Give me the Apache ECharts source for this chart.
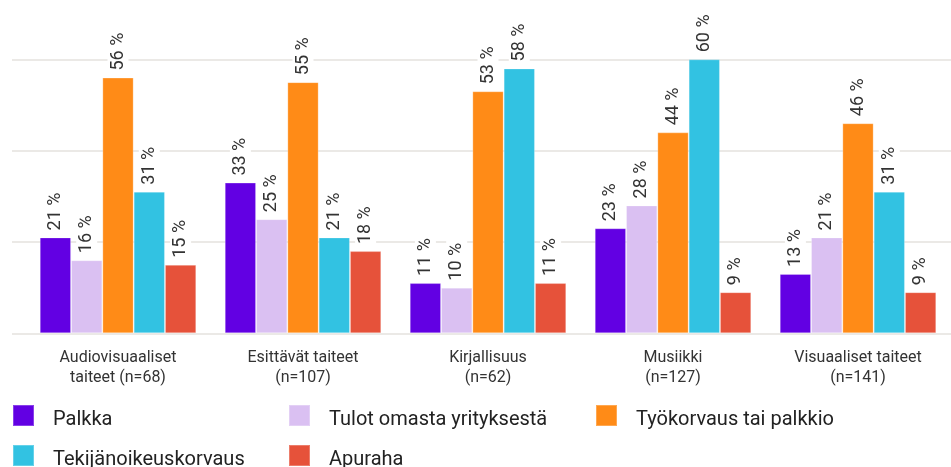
<!DOCTYPE html>
<html>
<head>
<meta charset="utf-8">
<script src="https://cdn.jsdelivr.net/npm/echarts@6/dist/echarts.min.js"></script>
<style>
html,body{margin:0;padding:0;background:#fff;}
#chart{width:951px;height:467px;}
</style>
</head>
<body>
<div id="chart"></div>
<script>
const categories = [
  'Audiovisuaaliset\ntaiteet (n=68)',
  'Esittävät taiteet\n(n=107)',
  'Kirjallisuus\n(n=62)',
  'Musiikki\n(n=127)',
  'Visuaaliset taiteet\n(n=141)'
];
const seriesNames = ['Palkka', 'Tulot omasta yrityksestä', 'Työkorvaus tai palkkio', 'Tekijänoikeuskorvaus', 'Apuraha'];
const palkka = [21, 33, 11, 23, 13];
const tulot = [16, 25, 10, 28, 21];
const tyokorvaus = [56, 55, 53, 44, 46];
const tekijanoikeus = [31, 21, 58, 60, 31];
const apuraha = [15, 18, 11, 9, 9];
const yTicks = [0, 20, 40, 60];

const colors = ['#6200e3', '#dac0f2', '#ff8b17', '#32c2e2', '#e6523a'];
const values = [palkka, tulot, tyokorvaus, tekijanoikeus, apuraha];
const font = 'Roboto, "Noto Sans", sans-serif';

const chart = echarts.init(document.getElementById('chart'));

const series = seriesNames.map((name, i) => ({
  name: name,
  type: 'bar',
  xAxisIndex: 1,
  yAxisIndex: 1,
  data: values[i],
  barGap: '0%',
  barCategoryGap: '15.4%',
  itemStyle: { color: colors[i], borderColor: 'rgba(255,255,255,0.25)', borderWidth: 1 },
  label: {
    show: true,
    position: 'top',
    rotate: 90,
    align: 'left',
    verticalAlign: 'middle',
    distance: 4,
    formatter: '{c} %',
    fontFamily: font,
    fontSize: 18,
    color: '#333',
    backgroundColor: '#fff',
    padding: [2, 3, 1, 3]
  },
  emphasis: { disabled: true },
  animation: false
}));

const legendPos = [
  { left: 12, top: 404 },
  { left: 288, top: 404 },
  { left: 595, top: 404 },
  { left: 12, top: 444 },
  { left: 288, top: 444 }
];
const legends = seriesNames.map((n, i) => ({
  data: [n],
  left: legendPos[i].left,
  top: legendPos[i].top,
  padding: 0,
  icon: 'rect',
  itemWidth: 21,
  itemHeight: 21,
  selectedMode: false,
  formatter: '{t|{name}}',
  textStyle: {
    fontFamily: font, fontSize: 20, color: '#222',
    rich: { t: { fontFamily: font, fontSize: 20, color: '#222', padding: [8, 0, 0, 14] } }
  }
}));

chart.setOption({
  animation: false,
  backgroundColor: '#fff',
  grid: [
    { left: 12, right: 0, top: 59.3, bottom: 133.7 },
    { left: 25.5, right: 0.5, top: 59.3, bottom: 133.7 }
  ],
  xAxis: [
    { type: 'category', gridIndex: 0, data: categories, show: false },
    {
      type: 'category', gridIndex: 1, data: categories,
      axisLine: { show: false }, axisTick: { show: false },
      axisLabel: { fontFamily: font, fontSize: 16, color: '#333', lineHeight: 20, margin: 15, interval: 0 }
    }
  ],
  yAxis: [
    {
      type: 'value', gridIndex: 0, min: yTicks[0], max: yTicks[yTicks.length - 1], interval: 20,
      axisLabel: { show: false }, axisLine: { show: false }, axisTick: { show: false },
      splitLine: { show: true, lineStyle: { color: '#ebe9e6', width: 2 } }
    },
    {
      type: 'value', gridIndex: 1, min: yTicks[0], max: yTicks[yTicks.length - 1], interval: 20,
      show: false, splitLine: { show: false }
    }
  ],
  legend: legends,
  series: series
});
</script>
</body>
</html>
